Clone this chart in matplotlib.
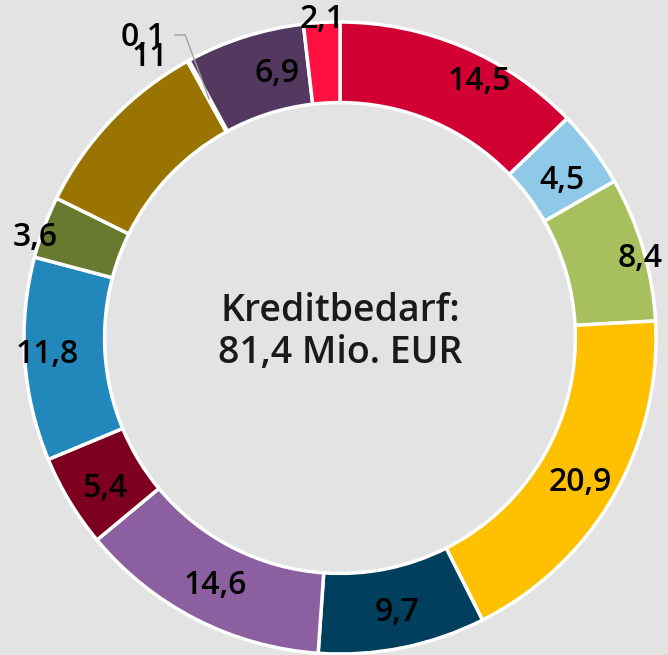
import matplotlib.pyplot as plt
import numpy as np

# --- DATA --------------------------- #
values = [14.5, 4.5, 8.4, 20.9, 9.7, 14.6, 5.4, 11.8, 3.6, 11, 0.1, 6.9, 2.1]
labels = ["14,5", "4,5", "8,4", "20,9", "9,7", "14,6", "5,4", "11,8", "3,6", "11", "0,1", "6,9", "2,1"]
colors = ["#d20032", "#8ecae8", "#a8bf5e", "#ffc000", "#003f5e", "#8b5fa0", "#7d0020",
          "#2288bb", "#687a2f", "#9a7400", "#9e9e9e", "#53395f", "#ff1040"]
# label placement: radius (1 = outer edge) and angle shift from slice middle (deg)
label_r = [0.922, 0.862, 0.983, 0.886, 0.886, 0.876, 0.882, 0.929, 1.016, 1.073, 1.138, 0.862, 1.008]
label_da = [-5.5, -1.5, -1.5, -1.0, 0.4, 0.3, 1.4, -0.6, 2.3, -12.2, 4.5, -4.2, -0.2]
center_text = "Kreditbedarf:\n81,4 Mio. EUR"
# ------------------------------------ #

plt.rcParams['font.family'] = ['Open Sans', 'DejaVu Sans']
bg = "#e3e3e3"

fig = plt.figure(figsize=(6.68, 6.55), dpi=100, facecolor=bg)
ax = fig.add_axes([0, 0, 1, 1])
ax.set_facecolor(bg)

wedges, _ = ax.pie(values, colors=colors, startangle=90, counterclock=False, radius=1.0,
                   wedgeprops=dict(width=0.255, edgecolor='white', linewidth=2.5))

# place the donut like the original (centre ~ (340, 338) px, radius ~316 px)
R = 316
cx, cy = 340, 338
ax.set_xlim(-cx / R, (668 - cx) / R)
ax.set_ylim(-(655 - cy) / R, cy / R)
ax.set_aspect('equal')
ax.axis('off')

total = sum(values)
cum = 0
for v, lab, r, da in zip(values, labels, label_r, label_da):
    mid = 90 - 360 * (cum + v / 2) / total
    cum += v
    a = np.deg2rad(mid + da)
    x, y = r * np.cos(a), r * np.sin(a)
    if lab == "0,1":
        # leader line to the tiny slice
        m = np.deg2rad(mid)
        ax.plot([0.863 * np.cos(m), -0.49, -0.522], [0.863 * np.sin(m), 0.959, 0.959],
                color='#a0a0a0', lw=1)
    ax.text(x, y, lab, ha='center', va='center', fontsize=23, color='black',
            fontweight='semibold')

ax.text(0, 0.02, center_text, ha='center', va='center', fontsize=27,
        color='#1a1a1a', linespacing=1.15, fontweight='semibold')

fig.savefig("out.png", dpi=100, facecolor=bg)
